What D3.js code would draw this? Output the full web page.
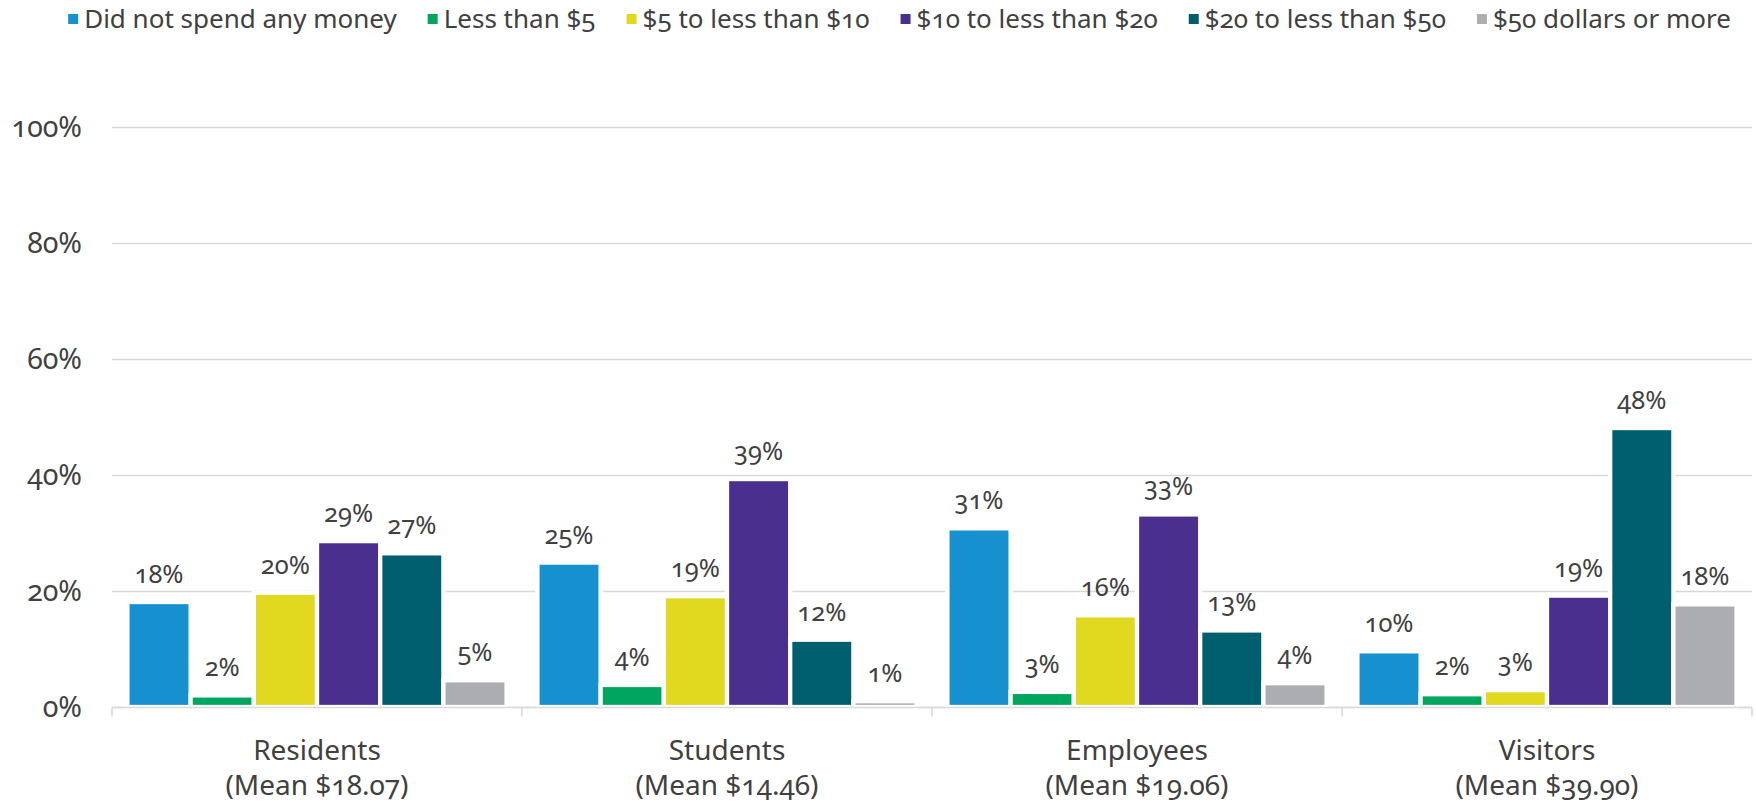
<!DOCTYPE html>
<html>
<head>
<meta charset="utf-8">
<script src="https://cdn.jsdelivr.net/npm/d3@7"></script>
<style>
  body { margin: 0; background: #fff; }
  svg text { font-family: "Noto Sans", sans-serif; fill: #404040; font-variant-numeric: oldstyle-nums; }
</style>
</head>
<body>
<div class="chart"></div>
<script>
var width = 1756, height = 805;

// data
var categories = ["Residents", "Students", "Employees", "Visitors"];
var category_means = ["(Mean $18.07)", "(Mean $14.46)", "(Mean $19.06)", "(Mean $39.90)"];
var series_names = ["Did not spend any money", "Less than $5", "$5 to less than $10",
  "$10 to less than $20", "$20 to less than $50", "$50 dollars or more"];
var series_colors = ["#1790d0", "#00a65d", "#e0d91f", "#4a2f8f", "#005f6f", "#acadb0"];

var residents = [18.1, 2.0, 19.7, 28.6, 26.5, 4.6];
var students = [24.9, 3.8, 19.1, 39.3, 11.6, 1.0];
var employees = [30.8, 2.6, 15.8, 33.2, 13.2, 4.1];
var visitors = [9.6, 2.2, 2.9, 19.2, 48.1, 17.7];

var y_ticks = [0, 20, 40, 60, 80, 100];

var rows = [residents, students, employees, visitors];

var margin = {left: 112, right: 4, top: 127, bottom: 98};

var svg = d3.select(".chart").append("svg")
    .attr("width", width)
    .attr("height", height);

var x0 = d3.scaleBand()
    .domain(categories)
    .range([margin.left, width - margin.right])
    .padding(0);

var x1 = d3.scaleBand()
    .domain(d3.range(series_names.length))
    .range([0, x0.bandwidth()])
    .paddingInner(0)
    .paddingOuter(0.244);

var y = d3.scaleLinear()
    .domain([0, 100])
    .range([height - margin.bottom, margin.top]);

// gridlines + y labels
var yAxis = svg.append("g")
    .attr("class", "y-axis")
    .attr("transform", "translate(" + margin.left + ",0)")
    .call(d3.axisLeft(y)
      .tickValues(y_ticks)
      .tickSize(-(width - margin.left - margin.right))
      .tickPadding(30)
      .tickFormat(function(d){ return d + "%"; }));

yAxis.select(".domain").remove();
yAxis.selectAll(".tick line")
    .attr("stroke", "#d9d9d9")
    .attr("stroke-width", 1.5);
yAxis.selectAll(".tick text")
    .style("font-size", "28.5px")
    .attr("fill", "#404040");

// bars
var groups = svg.selectAll(".cat")
    .data(rows)
  .enter().append("g")
    .attr("class", "cat")
    .attr("transform", function(d, i){ return "translate(" + x0(categories[i]) + ",0)"; });

groups.selectAll("rect")
    .data(function(d){ return d; })
  .enter().append("rect")
    .attr("x", function(d, i){ return x1(i); })
    .attr("width", x1.bandwidth())
    .attr("y", function(d){ return y(d); })
    .attr("height", function(d){ return y(0) - y(d); })
    .attr("fill", function(d, i){ return series_colors[i]; })
    .attr("stroke", "#fff")
    .attr("stroke-width", 4.3);

groups.selectAll(".bar-label")
    .data(function(d){ return d; })
  .enter().append("text")
    .attr("class", "bar-label")
    .attr("x", function(d, i){ return x1(i) + x1.bandwidth() / 2; })
    .attr("y", function(d){ return y(d) - 19; })
    .style("text-anchor", "middle")
    .style("font-size", "25.5px")
    .text(function(d){ return Math.round(d) + "%"; });

// category axis
var base = y(0) + 0.5;
svg.append("line")
    .attr("x1", margin.left).attr("x2", width - margin.right)
    .attr("y1", base).attr("y2", base)
    .attr("stroke", "#d9d9d9")
    .attr("stroke-width", 1.5);

var bounds = categories.map(function(c){ return x0(c); }).concat([x0.range()[1]]);
svg.selectAll(".x-tick")
    .data(bounds)
  .enter().append("line")
    .attr("class", "x-tick")
    .attr("x1", function(d){ return d; }).attr("x2", function(d){ return d; })
    .attr("y1", base).attr("y2", base + 9)
    .attr("stroke", "#d9d9d9")
    .attr("stroke-width", 1.5);

var catLabels = svg.selectAll(".cat-label")
    .data(categories)
  .enter().append("text")
    .attr("class", "cat-label")
    .attr("x", function(d){ return x0(d) + x0.bandwidth() / 2; })
    .attr("y", 760)
    .style("text-anchor", "middle")
    .style("font-size", "28px");

catLabels.append("tspan")
    .attr("x", function(d){ return x0(d) + x0.bandwidth() / 2; })
    .text(function(d){ return d; });

catLabels.append("tspan")
    .attr("x", function(d){ return x0(d) + x0.bandwidth() / 2; })
    .attr("dy", 35)
    .text(function(d, i){ return category_means[i]; });

// legend
var legend = svg.append("g").attr("class", "legend");
var items = legend.selectAll(".legend-item")
    .data(series_names)
  .enter().append("g")
    .attr("class", "legend-item");

items.append("rect")
    .attr("width", 10).attr("height", 10)
    .attr("y", 14)
    .attr("fill", function(d, i){ return series_colors[i]; });

items.append("text")
    .attr("x", 16)
    .attr("y", 28)
    .style("font-size", "26px")
    .text(function(d){ return d; });

var gap = 31;
var xpos = 0, offsets = [];
items.each(function(){
  offsets.push(xpos);
  xpos += 16 + d3.select(this).select("text").node().getComputedTextLength() + gap;
});
var total = xpos - gap;
var start = 899.5 - total / 2;
items.attr("transform", function(d, i){ return "translate(" + (start + offsets[i]) + ",0)"; });
</script>
</body>
</html>
